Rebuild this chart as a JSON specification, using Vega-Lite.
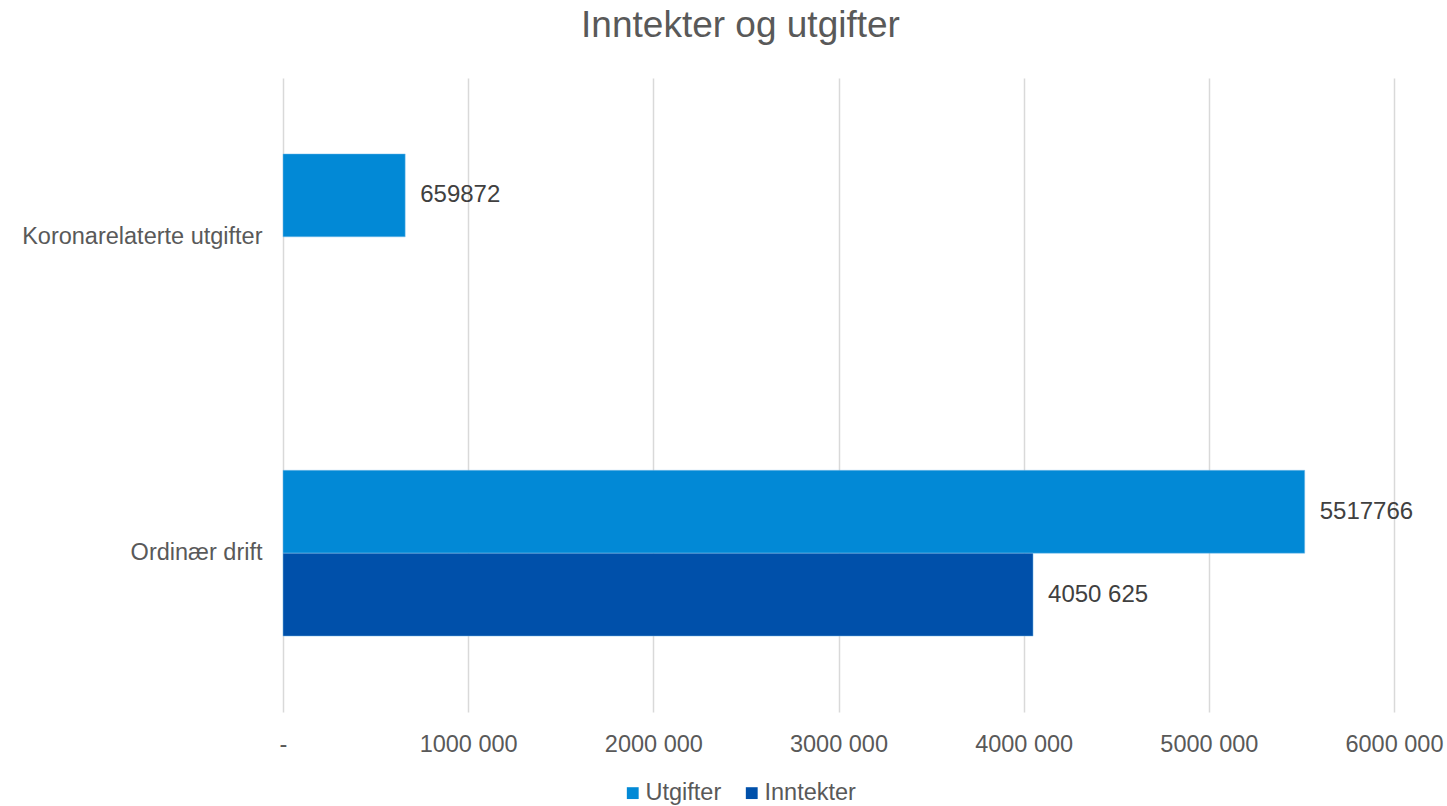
{
  "$schema": "https://vega.github.io/schema/vega-lite/v6.json",
  "width": 1111,
  "height": 634,
  "autosize": {"type": "none"},
  "padding": {"left": 283, "top": 78, "right": 53, "bottom": 94},
  "background": "white",
  "config": {
    "font": "Liberation Sans",
    "view": {"stroke": null}
  },
  "title": {
    "text": "Inntekter og utgifter",
    "fontSize": 37,
    "fontWeight": "normal",
    "color": "#595959",
    "anchor": "middle",
    "dx": -98,
    "offset": 33
  },
  "data": {
    "values": [
      {"kategori": "Koronarelaterte utgifter", "serie": "Utgifter", "verdi": 659872, "etikett": "659872"},
      {"kategori": "Ordinær drift", "serie": "Utgifter", "verdi": 5517766, "etikett": "5517766"},
      {"kategori": "Ordinær drift", "serie": "Inntekter", "verdi": 4050625, "etikett": "4050 625"}
    ]
  },
  "encoding": {
    "y": {
      "field": "kategori",
      "type": "nominal",
      "sort": ["Koronarelaterte utgifter", "Ordinær drift"],
      "scale": {"paddingInner": 0.476, "paddingOuter": 0.24},
      "axis": {
        "title": null,
        "domain": false,
        "ticks": false,
        "labelFontSize": 23.5,
        "labelColor": "#595959",
        "labelPadding": 21,
        "labelLimit": 0
      }
    },
    "yOffset": {
      "field": "serie",
      "type": "nominal",
      "sort": ["Utgifter", "Inntekter"],
      "scale": {"domain": ["Utgifter", "Inntekter"], "paddingInner": 0, "paddingOuter": 0}
    },
    "x": {
      "field": "verdi",
      "type": "quantitative",
      "scale": {"domain": [0, 6000000], "nice": false},
      "axis": {
        "title": null,
        "values": [0, 1000000, 2000000, 3000000, 4000000, 5000000, 6000000],
        "labelExpr": "datum.value == 0 ? '-' : floor(datum.value / 1000) + ' 000'",
        "domain": false,
        "ticks": false,
        "grid": true,
        "gridColor": "#D9D9D9",
        "gridWidth": 1.5,
        "labelFontSize": 23.5,
        "labelColor": "#595959",
        "labelPadding": 20,
        "labelLimit": 0,
        "labelFlush": false,
        "labelOverlap": false,
        "labelBound": false
      }
    }
  },
  "layer": [
    {
      "mark": {"type": "bar", "stroke": "#7FC0EA", "strokeWidth": 0.8, "strokeOpacity": 0.6},
      "encoding": {
        "color": {
          "field": "serie",
          "type": "nominal",
          "scale": {"domain": ["Utgifter", "Inntekter"], "range": ["#0289D6", "#0050AA"]},
          "legend": {
            "title": null,
            "orient": "none",
            "direction": "horizontal",
            "legendX": 338,
            "legendY": 703,
            "symbolType": "square",
            "symbolSize": 140,
            "symbolStrokeWidth": 0,
            "labelFontSize": 23.5,
            "labelColor": "#595959",
            "labelOffset": 1,
            "columnPadding": 18,
            "labelLimit": 0
          }
        }
      }
    },
    {
      "mark": {"type": "text", "align": "left", "baseline": "middle", "dx": 15, "fontSize": 24, "color": "#404040"},
      "encoding": {
        "text": {"field": "etikett", "type": "nominal"}
      }
    }
  ]
}
